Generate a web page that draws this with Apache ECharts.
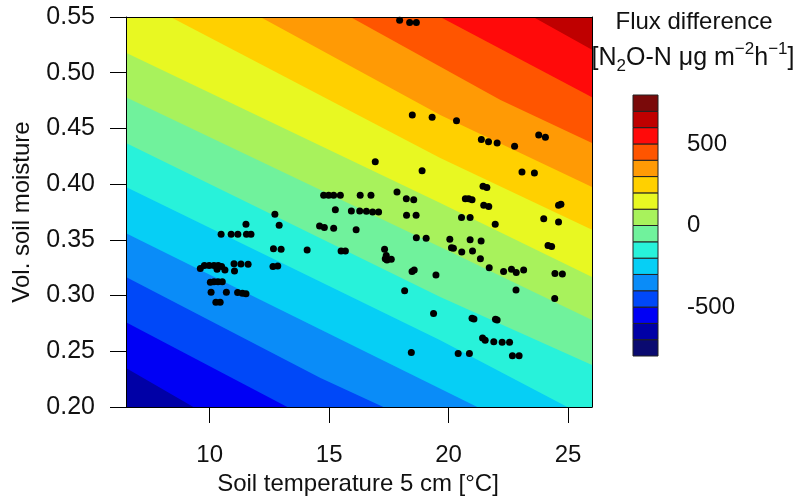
<!DOCTYPE html>
<html><head><meta charset="utf-8">
<script src="https://cdn.jsdelivr.net/npm/echarts@6/dist/echarts.min.js"></script>
<style>html,body{margin:0;padding:0;background:#fff}#c{width:802px;height:502px}</style>
</head><body><div id="c"></div>
<script>
// ---- data ----
const xTicks = [10, 15, 20, 25];
const yTicks = [0.20, 0.25, 0.30, 0.35, 0.40, 0.45, 0.50, 0.55];
const cbTicks = [-500, 0, 500];
const bandLevels = [-800,-700,-600,-500,-400,-300,-200,-100,0,100,200,300,400,500,600,700,800];
const bandColors = ['#0A0A70','#0000A6','#0000F5','#0048F8','#0A8CF8','#06CFF5','#28F2DA','#70F29C',
                    '#A8F25C','#E8F822','#FFD000','#FF9A05','#FF5500','#FF0A0A','#BF0000','#7A0A0A'];
// contour lines (soil temperature, soil moisture), one per level
const contourLevels = [-600,-500,-400,-300,-200,-100,0,100,200,300,400,500,600];
const contourLines = [
  [[6.5,0.235],[9.32,0.20]],
  [[6.5,0.276],[13.25,0.20]],
  [[6.5,0.3167],[14.64,0.226],[17.27,0.20]],
  [[6.5,0.356],[12.14,0.296],[21.2,0.20]],
  [[6.5,0.3975],[19.65,0.260],[24.97,0.20]],
  [[6.5,0.437],[19.65,0.2987],[26,0.2377]],
  [[6.5,0.478],[19.65,0.3436],[26,0.278]],
  [[6.5,0.518],[19.65,0.383],[26,0.3167]],
  [[8.36,0.55],[19.65,0.4235],[26,0.359]],
  [[12.12,0.55],[19.65,0.462],[26,0.3975]],
  [[15.89,0.55],[22.17,0.4756],[26,0.437]],
  [[19.65,0.55],[26,0.478]],
  [[23.54,0.55],[26,0.5205]]
];
const soilTemp = [17.95,18.37,18.65,18.48,19.31,20.33,21.37,21.67,22.03,22.76,23.77,24.05,16.93,18.89,23.07,23.59,
  21.44,21.60,17.84,18.23,18.54,20.70,20.84,20.98,21.47,21.68,24.60,24.70,14.77,14.98,15.19,15.47,16.30,16.75,
  15.26,15.93,16.28,16.56,16.82,17.07,18.24,18.64,20.54,20.90,21.95,23.98,24.60,12.73,12.91,11.52,10.48,10.90,
  11.18,11.54,11.73,14.60,14.80,15.19,16.13,18.65,19.06,20.05,20.90,21.36,20.12,20.20,20.55,21.00,21.33,24.16,
  24.31,12.67,12.99,14.08,15.50,15.68,17.32,17.39,17.35,17.60,17.42,21.70,22.30,22.63,22.83,23.14,24.45,24.76,
  18.47,18.56,19.47,22.82,24.44,18.16,19.37,20.98,21.06,21.96,22.03,21.42,21.53,21.89,22.24,22.55,22.67,22.95,
  18.44,20.40,20.87,
  9.61,9.78,9.98,10.18,10.36,10.50,10.64,10.31,11.02,11.31,11.61,11.04,12.65,12.85,10.03,10.18,10.35,10.53,
  10.06,10.70,11.17,11.37,11.52,10.26,10.44];
const soilMoist = [0.547,0.545,0.545,0.462,0.460,0.457,0.440,0.438,0.437,0.434,0.444,0.442,0.420,0.412,0.411,0.410,
  0.398,0.397,0.393,0.387,0.386,0.387,0.387,0.386,0.381,0.380,0.381,0.382,0.390,0.390,0.390,0.390,0.390,0.390,
  0.377,0.376,0.376,0.3756,0.375,0.375,0.372,0.372,0.370,0.370,0.364,0.369,0.366,0.373,0.363,0.364,0.355,0.355,
  0.355,0.355,0.355,0.3625,0.361,0.3605,0.359,0.352,0.3515,0.3505,0.350,0.349,0.343,0.3425,0.339,0.340,0.333,0.345,
  0.344,0.342,0.3415,0.341,0.340,0.340,0.3415,0.336,0.333,0.3326,0.332,0.325,0.3215,0.3236,0.3206,0.323,0.3197,0.3194,
  0.3215,0.323,0.3185,0.305,0.2973,0.3044,0.284,0.2796,0.279,0.2787,0.278,0.262,0.260,0.2586,0.258,0.258,0.246,0.246,
  0.249,0.248,0.248,
  0.3243,0.327,0.327,0.327,0.327,0.326,0.323,0.3236,0.3285,0.3284,0.3282,0.322,0.326,0.3265,0.312,0.3125,0.3125,0.3125,
  0.303,0.303,0.3028,0.302,0.3017,0.294,0.294];

// ---- chart ----
const FONT = '"Liberation Sans", Arial, Helvetica, sans-serif';
const TXT = '#111';
const chart = echarts.init(document.getElementById('c'));

function colorAbove(level){ return bandColors[bandLevels.indexOf(level)]; }

const frame = {show:true, lineStyle:{color:'#000', width:1}};
const option = {
  animation:false,
  grid:[
    {left:126, top:17, width:466, height:390, show:true, borderWidth:0,
     backgroundColor: colorAbove(contourLevels[0] - 100)},
    {left:633, top:95, width:25, height:261}
  ],
  xAxis:[
    {type:'value', gridIndex:0, min:6.5, max:26, z:10, axisLine:frame,
     axisTick:{show:true, length:16, customValues:xTicks, lineStyle:{color:'#000'}},
     axisLabel:{customValues:xTicks, fontSize:24, color:TXT, fontFamily:FONT, margin:36},
     splitLine:{show:false}},
    {type:'value', gridIndex:1, min:0, max:1, show:false},
    {type:'value', gridIndex:0, position:'top', min:6.5, max:26, z:10, axisLine:frame,
     axisTick:{show:false}, axisLabel:{show:false}, splitLine:{show:false}}
  ],
  yAxis:[
    {type:'value', gridIndex:0, min:0.2, max:0.55, z:10, axisLine:frame,
     axisTick:{show:true, length:16, customValues:yTicks, lineStyle:{color:'#000'}},
     axisLabel:{customValues:yTicks, fontSize:25, color:TXT, fontFamily:FONT, margin:31,
                formatter:v=>Number(v).toFixed(2)},
     splitLine:{show:false}},
    {type:'value', gridIndex:1, min:-800, max:800, position:'right', axisLine:{show:false},
     axisTick:{show:true, length:14, customValues:cbTicks, lineStyle:{color:'#000'}},
     axisLabel:{customValues:cbTicks, fontSize:24, color:TXT, fontFamily:FONT, margin:29},
     splitLine:{show:false}},
    {type:'value', gridIndex:0, position:'right', min:0.2, max:0.55, z:10, axisLine:frame,
     axisTick:{show:false}, axisLabel:{show:false}, splitLine:{show:false}}
  ],
  series:[
    {type:'custom', xAxisIndex:0, yAxisIndex:0, clip:true, silent:true, z:1,
     data: contourLevels.map((l,i)=>[i, l]),
     renderItem(params, api){
       const i = params.dataIndex;
       const line = contourLines[i];
       const a = line[0], b = line[1];
       const sA = (b[1]-a[1])/(b[0]-a[0]);
       const n = line.length, c = line[n-2], d = line[n-1];
       const sB = (d[1]-c[1])/(d[0]-c[0]);
       const start = [a[0]-40, a[1]-40*sA];
       const end = [d[0]+40, d[1]+40*sB];
       const pts = [start].concat(line, [end, [end[0], 5], [start[0], 5]]).map(p=>api.coord(p));
       return {type:'polygon', shape:{points:pts}, style:{fill: colorAbove(contourLevels[i]), stroke:null}};
     }},
    {type:'scatter', xAxisIndex:0, yAxisIndex:0, z:5, symbolSize:7, silent:true,
     itemStyle:{color:'#000', opacity:1},
     data: soilTemp.map((x,i)=>[x, soilMoist[i]])},
    {type:'custom', xAxisIndex:1, yAxisIndex:1, silent:true, z:3,
     data: bandColors.map((c,i)=>[bandLevels[i], bandLevels[i+1]]),
     renderItem(params, api){
       const lo = api.value(0), hi = api.value(1);
       const p0 = api.coord([0, hi]), p1 = api.coord([1, lo]);
       return {type:'rect', shape:{x:p0[0], y:p0[1], width:p1[0]-p0[0], height:p1[1]-p0[1]},
               style:{fill: bandColors[params.dataIndex], stroke:'#222', lineWidth:1}};
     }}
  ],
  graphic:[
    {type:'text', x:22, y:212, rotation:Math.PI/2,
     style:{text:'Vol. soil moisture', font:'24px '+FONT, fill:TXT, align:'center', verticalAlign:'middle'}},
    {type:'text', x:358, y:484,
     style:{text:'Soil temperature 5 cm [°C]', font:'24px '+FONT, fill:TXT, align:'center', verticalAlign:'middle'}},
    {type:'text', x:694, y:22,
     style:{text:'Flux difference', font:'24px '+FONT, fill:TXT, align:'center', verticalAlign:'middle'}},
    {type:'text', x:693, y:58,
     style:{text:'[N{sub|2}O-N μg m{sup|−2}h{sup|−1}]', fontSize:25, fontFamily:FONT, fill:TXT,
            align:'center', verticalAlign:'middle', lineHeight:34,
            rich:{sub:{fontSize:17, fontFamily:FONT, fill:TXT, lineHeight:17, verticalAlign:'bottom'},
                  sup:{fontSize:17, fontFamily:FONT, fill:TXT, lineHeight:17, verticalAlign:'top'}}}}
  ]
};
chart.setOption(option);
</script></body></html>
